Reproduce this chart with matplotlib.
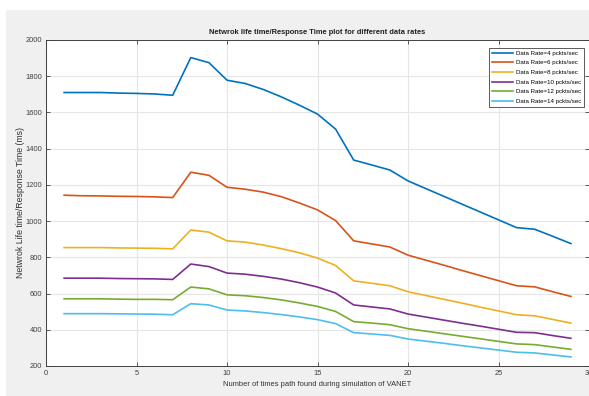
import matplotlib.pyplot as plt
from matplotlib.patches import Rectangle

plt.rcParams['font.family'] = ['Liberation Sans', 'DejaVu Sans']

x = list(range(1, 30))

rate4 = [1710, 1710, 1710, 1707, 1705, 1702, 1695, 1903, 1875, 1778,
         1760, 1727, 1686, 1640, 1591, 1508, 1337, 1310, 1282, 1222,
         1179, 1136, 1093, 1050, 1007, 964, 955, 916, 876]
rate6 = [1143, 1140, 1139, 1137, 1136, 1134, 1130, 1270, 1253, 1187,
         1176, 1160, 1135, 1100, 1062, 1003, 891, 874, 857, 812,
         784, 756, 727, 699, 671, 643, 637, 610, 584]
rate8 = [854, 854, 854, 852, 851, 850, 847, 951, 939, 891,
         884, 868, 848, 825, 796, 755, 670, 657, 643, 610,
         589, 568, 547, 525, 504, 483, 477, 457, 437]
rate10 = [685, 685, 685, 683, 682, 681, 678, 763, 749, 713,
          707, 695, 680, 660, 636, 603, 537, 526, 515, 487,
          470, 453, 436, 420, 403, 386, 384, 368, 353]
rate12 = [571, 571, 571, 569, 568, 568, 566, 636, 626, 593,
          588, 578, 565, 548, 529, 501, 445, 437, 428, 406,
          392, 378, 364, 350, 336, 322, 318, 305, 292]
rate14 = [489, 489, 489, 488, 487, 486, 483, 544, 537, 509,
          504, 495, 484, 471, 456, 434, 384, 377, 369, 349,
          337, 325, 312, 300, 288, 276, 272, 261, 250]

series = [rate4, rate6, rate8, rate10, rate12, rate14]
labels = ['Data Rate=4 pckts/sec', 'Data Rate=6 pckts/sec', 'Data Rate=8 pckts/sec',
          'Data Rate=10 pckts/sec', 'Data Rate=12 pckts/sec', 'Data Rate=14 pckts/sec']
colors = ['#0072BD', '#D95319', '#EDB120', '#7E2F8E', '#77AC30', '#4DBEEE']

fig = plt.figure(figsize=(5.89, 3.96), dpi=100)
fig.patch.set_facecolor('white')
fig.patches.append(Rectangle((6 / 589, 0), 1, 386 / 396, transform=fig.transFigure,
                             facecolor='#f0f0f0', edgecolor='none', zorder=-10))

ax = fig.add_axes([46 / 589, 30 / 396, 543 / 589, 326 / 396])
ax.set_facecolor('white')

for y, lab, c in zip(series, labels, colors):
    ax.plot(x, y, color=c, linewidth=1.2, label=lab)

ax.set_xlim(0, 30)
ax.set_ylim(200, 2000)
ax.set_xticks([0, 5, 10, 15, 20, 25, 30])
ax.set_yticks(range(200, 2001, 200))
ax.grid(True, color='#e6e6e6', linewidth=0.8)
ax.set_axisbelow(True)
ax.tick_params(direction='in', top=True, right=True, labelsize=5.4,
               colors='#404040', length=3, width=0.6, pad=3)
for s in ax.spines.values():
    s.set_color('#404040')
    s.set_linewidth(0.7)

ax.set_title('Netwrok life time/Response Time plot for different data rates',
             fontsize=5.4, fontweight='bold', color='#202020', pad=4)
ax.set_xlabel('Number of times path found during simulation of VANET',
              fontsize=5.4, color='#303030', labelpad=3)
ax.set_ylabel('Netwrok Life time/Response Time (ms)', fontsize=6.3, color='#303030',
              labelpad=0)

leg = ax.legend(loc='upper right', bbox_to_anchor=(0.997, 0.986), fontsize=4.4,
                frameon=True, fancybox=False, edgecolor='#404040', framealpha=1,
                handlelength=3.5, handletextpad=0.5, borderpad=0.45, labelspacing=0.72)
leg.get_frame().set_linewidth(0.6)

fig.savefig('out.png', dpi=100)
